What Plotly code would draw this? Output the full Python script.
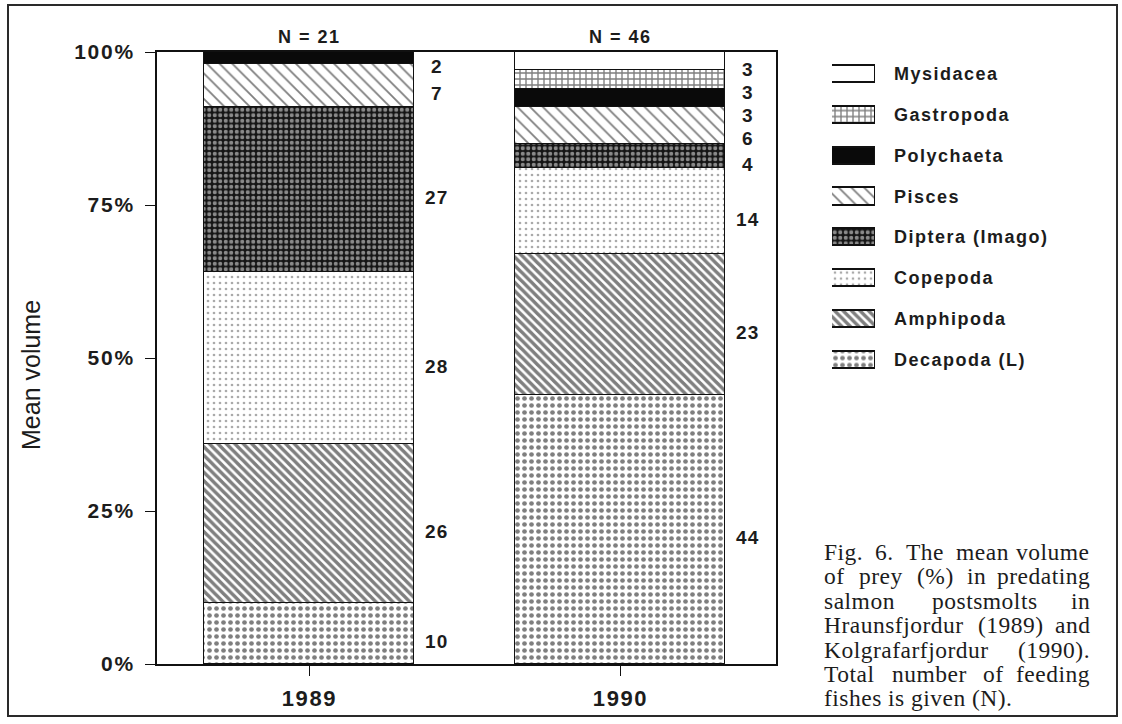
import plotly.graph_objects as go

# ---- data -------------------------------------------------------------
years = ["1989", "1990"]
n_fish = [21, 46]
# prey groups, listed from the bottom of each stack to the top
taxa = ["Decapoda (L)", "Amphipoda", "Copepoda", "Diptera (Imago)",
        "Pisces", "Polychaeta", "Gastropoda", "Mysidacea"]
vol_1989 = [10, 26, 28, 27, 7, 2, 0, 0]
vol_1990 = [44, 23, 14, 4, 6, 3, 3, 3]
y_ticks = [0, 25, 50, 75, 100]
y_tick_labels = ["0%", "25%", "50%", "75%", "100%"]

caption_lines = [
    "Fig. 6.  The mean volume",
    "of prey (%) in predating",
    "salmon postsmolts in",
    "Hraunsfjordur (1989) and",
    "Kolgrafarfjordur (1990).",
    "Total number of feeding",
    "fishes is given (N).",
]

# ---- styling ----------------------------------------------------------
W, H = 1122, 724
INK = "#1c1c1c"
SANS = "Liberation Sans"
SERIF = "Liberation Serif"

patterns = {
    "Decapoda (L)":    dict(shape=".", fgcolor="#000", bgcolor="#fff", size=7, solidity=0.36),
    "Amphipoda":       dict(shape="\\", fgcolor="#000", bgcolor="#fff", size=6, solidity=0.58),
    "Copepoda":        dict(shape=".", fgcolor="#555", bgcolor="#fff", size=6, solidity=0.16),
    "Diptera (Imago)": dict(shape=".", fgcolor="#fff", bgcolor="#151515", size=5.5, solidity=0.45),
    "Pisces":          dict(shape="\\", fgcolor="#000", bgcolor="#fff", size=9, solidity=0.2),
    "Polychaeta":      dict(shape=""),
    "Gastropoda":      dict(shape="+", fgcolor="#000", bgcolor="#fff", size=6, solidity=0.4),
    "Mysidacea":       dict(shape=""),
}
fills = {"Polychaeta": "#0a0a0a"}


def px_x(p):
    return p / W


def px_y(p):
    return 1 - p / H


def tracked(s, spacing):
    return f'<span style="letter-spacing:{spacing}px">{s}</span>'


BAR_W = 0.675
x_dom = [px_x(157), px_x(776)]
y_dom = [px_y(664), px_y(52)]

fig = go.Figure()

# stacked bars
for j, name in enumerate(taxa):
    fig.add_trace(go.Bar(
        x=[0, 1], y=[vol_1989[j], vol_1990[j]], width=BAR_W,
        name=name, showlegend=False,
        marker=dict(color=fills.get(name, "#fff"),
                    line=dict(color="#111", width=1.3),
                    pattern=patterns[name]),
        xaxis="x", yaxis="y",
    ))

# key boxes, drawn as bars on their own small axes
rows = list(reversed(taxa))
for k, name in enumerate(rows):
    fig.add_trace(go.Bar(
        x=[1], y=[k], orientation="h", width=0.42, showlegend=False,
        marker=dict(color=fills.get(name, "#fff"),
                    line=dict(color="#111", width=1.2),
                    pattern=patterns[name]),
        xaxis="x2", yaxis="y2",
    ))


def label_positions(values, gap=3.8):
    """Segment mid-points, pushed apart from the top down when crowded."""
    mids, acc = [], 0
    for v in values:
        mids.append(acc + v / 2)
        acc += v
    pos, prev = mids[:], None
    for k in reversed(range(len(values))):
        if values[k] == 0:
            continue
        if prev is not None:
            pos[k] = min(pos[k], prev - gap)
        prev = pos[k]
    return pos


annotations = []
for i, vals in enumerate([vol_1989, vol_1990]):
    for v, yp in zip(vals, label_positions(vals)):
        if v == 0:
            continue
        annotations.append(dict(
            x=i + BAR_W / 2, y=yp, xref="x", yref="y", xshift=23, yshift=-8,
            text=tracked(f"<b>{v}</b>", 1.2), showarrow=False,
            xanchor="center", yanchor="middle",
            font=dict(family=SANS, size=19, color=INK)))
    annotations.append(dict(
        x=i, y=px_y(37), xref="x", yref="paper",
        text=tracked(f"<b>N = {n_fish[i]}</b>", 1.5), showarrow=False,
        xanchor="center", yanchor="middle",
        font=dict(family=SANS, size=18, color=INK)))

# key labels
row_y0, row_step = 74, 40.86
for k, name in enumerate(rows):
    annotations.append(dict(
        x=px_x(892), y=px_y(row_y0 + k * row_step), xref="paper", yref="paper",
        text=tracked(f"<b>{name}</b>", 1.5), showarrow=False,
        xanchor="left", yanchor="middle",
        font=dict(family=SANS, size=18, color=INK)))

# y-axis title
annotations.append(dict(
    x=px_x(31), y=px_y(375), xref="paper", yref="paper",
    text="Mean volume", textangle=-90, showarrow=False,
    xanchor="center", yanchor="middle",
    font=dict(family=SANS, size=25, color=INK)))

# justified caption block
TIMES = {" ": 250, "(": 333, ")": 333, "%": 833, ".": 250, "F": 556, "H": 722,
         "K": 722, "N": 722, "T": 611, "a": 444, "b": 500, "c": 444, "d": 500,
         "e": 444, "f": 333, "g": 500, "h": 500, "i": 278, "j": 278, "l": 278,
         "m": 778, "n": 500, "o": 500, "p": 500, "r": 333, "s": 389, "t": 278,
         "u": 500, "v": 500, "w": 722, "y": 500}
CAP_SIZE, CAP_TRACK = 23.5, 0.5
cap_left, cap_right, cap_top, cap_step = 822, 1092, 552, 24.4


def word_width(w):
    return sum(TIMES.get(c, 500) for c in w) / 1000 * CAP_SIZE + CAP_TRACK * len(w)


for li, line in enumerate(caption_lines):
    words = line.split()
    yy = px_y(cap_top + li * cap_step)
    last = li == len(caption_lines) - 1
    if last or len(words) == 1:
        gap = TIMES[" "] / 1000 * CAP_SIZE + CAP_TRACK
    else:
        gap = (cap_right - cap_left - sum(word_width(w) for w in words)) / (len(words) - 1)
    xx = cap_left
    for wi, w in enumerate(words):
        right_end = (not last) and wi == len(words) - 1 and wi > 0
        annotations.append(dict(
            x=px_x(cap_right if right_end else xx), y=yy,
            xref="paper", yref="paper",
            text=tracked(w, CAP_TRACK), showarrow=False,
            xanchor="right" if right_end else "left", yanchor="middle",
            font=dict(family=SERIF, size=CAP_SIZE, color=INK)))
        xx += word_width(w) + gap

# page frame
shapes = [dict(type="rect", xref="paper", yref="paper",
               x0=px_x(8), x1=px_x(1117), y0=px_y(716), y1=px_y(5),
               line=dict(color="#2a2a2a", width=2))]

axis_common = dict(showgrid=False, zeroline=False, showline=True,
                   linecolor="#111", linewidth=1.5, mirror=True,
                   ticks="outside", ticklen=10, tickwidth=1.3, tickcolor="#111",
                   fixedrange=True, automargin=False)

fig.update_layout(
    width=W, height=H, margin=dict(l=0, r=0, t=0, b=0, pad=0),
    paper_bgcolor="#fff", plot_bgcolor="#fff",
    barmode="stack", bargap=0,
    xaxis=dict(domain=x_dom, range=[-0.49, 1.5], tickvals=[0, 1],
               ticktext=[tracked(f"<b>{y}</b>", 1.6) for y in years],
               tickfont=dict(family=SANS, size=22, color=INK),
               ticklabelstandoff=4, **axis_common),
    yaxis=dict(domain=y_dom, range=[0, 100], tickvals=y_ticks,
               ticktext=[tracked(f"<b>{t}</b>", 1.8) for t in y_tick_labels],
               tickfont=dict(family=SANS, size=21, color=INK),
               ticklabelstandoff=6, **axis_common),
    xaxis2=dict(domain=[px_x(832), px_x(875)], range=[0, 1], visible=False,
                anchor="y2", fixedrange=True),
    yaxis2=dict(domain=[px_y(row_y0 + 7.5 * row_step), px_y(row_y0 - 0.5 * row_step)],
                range=[7.5, -0.5], visible=False, anchor="x2", fixedrange=True),
    annotations=annotations,
    shapes=shapes,
)

fig.write_html("out.html")
